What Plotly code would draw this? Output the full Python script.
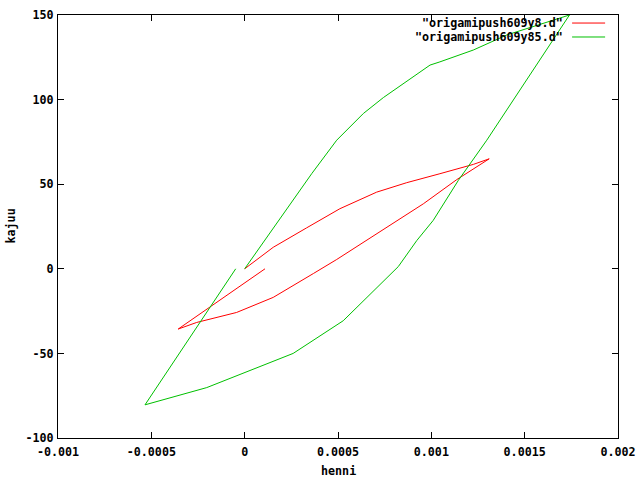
import plotly.graph_objects as go

# Data (henni, kajuu)
red_name = '"origamipush609y8.d"'
red_x = [0.0, 0.000153, 0.000332, 0.00051, 0.000707, 0.000868, 0.001046, 0.001225, 0.00131,
         0.001136, 0.000957, 0.000779, 0.0006, 0.000493, 0.000368, 0.000153, -0.000043,
         -0.000257, -0.000356, 0.000109]
red_y = [0.0, 12.7, 24.2, 35.5, 45.3, 50.9, 56.2, 61.7, 65.0,
         52.7, 38.4, 25.6, 13.2, 5.5, -2.8, -16.9, -25.8,
         -31.7, -35.6, 0.0]

green_name = '"origamipush609y85.d"'
green_x = [0.0, 0.000234, 0.000359, 0.000493, 0.000636, 0.000743, 0.000993, 0.001046, 0.001225,
           0.001404, 0.00174,
           0.001297, 0.001145, 0.00101, 0.000922, 0.000823, 0.000671, 0.000528,
           0.00026, -0.000203, -0.000534, -0.000048]
green_y = [0.0, 36.4, 56.2, 76.0, 91.8, 101.2, 120.4, 122.3, 129.3,
           138.2, 150.0,
           76.0, 52.3, 28.6, 16.7, 1.3, -14.9, -30.7,
           -50.0, -70.2, -80.4, 0.0]

x_ticks = [-0.001, -0.0005, 0, 0.0005, 0.001, 0.0015, 0.002]
x_tick_text = ["-0.001", "-0.0005", "0", "0.0005", "0.001", "0.0015", "0.002"]
y_ticks = [-100, -50, 0, 50, 100, 150]
y_tick_text = ["-100", "-50", "0", "50", "100", "150"]

RED = "#ff0000"
GREEN = "#00c000"
FONT = dict(family="DejaVu Sans Mono", size=11.7, color="black", weight="bold")

fig = go.Figure()
fig.add_trace(go.Scatter(x=red_x, y=red_y, mode="lines", name=red_name,
                         line=dict(color=RED, width=1), showlegend=False))
fig.add_trace(go.Scatter(x=green_x, y=green_y, mode="lines", name=green_name,
                         line=dict(color=GREEN, width=1), showlegend=False))

axis_common = dict(showgrid=False, zeroline=False, showline=True, mirror="allticks",
                   linecolor="black", linewidth=1, ticks="inside", ticklen=6,
                   tickcolor="black", tickwidth=1, tickfont=FONT, automargin=False)

fig.update_xaxes(range=[-0.001, 0.002], tickvals=x_ticks, ticktext=x_tick_text,
                 ticklabelstandoff=3, **axis_common)
fig.update_yaxes(range=[-100, 150], tickvals=y_ticks, ticktext=y_tick_text,
                 ticklabelstandoff=1, **axis_common)

# Legend drawn gnuplot-style (text right-aligned, sample line to the right)
legend_rows = [(red_name, RED, 0.981), (green_name, GREEN, 0.948)]
for name, col, yy in legend_rows:
    fig.add_annotation(x=0.905, y=yy, xref="paper", yref="paper", text=name,
                       showarrow=False, xanchor="right", yanchor="middle", font=FONT)
    fig.add_shape(type="line", xref="paper", yref="paper", x0=0.918, x1=0.977,
                  y0=yy, y1=yy, line=dict(color=col, width=1))

fig.add_annotation(x=0.5, y=-0.078, xref="paper", yref="paper", text="henni",
                   showarrow=False, xanchor="center", yanchor="middle", font=FONT)
fig.add_annotation(x=-0.0857, y=0.5, xref="paper", yref="paper", text="kajuu",
                   showarrow=False, xanchor="center", yanchor="middle", textangle=-90, font=FONT)

fig.update_layout(width=640, height=480, margin=dict(l=58, r=22, t=15, b=42),
                  plot_bgcolor="white", paper_bgcolor="white", showlegend=False)

fig.write_html("out.html", config={"displayModeBar": False},
               post_script="document.body.style.margin='0';")
